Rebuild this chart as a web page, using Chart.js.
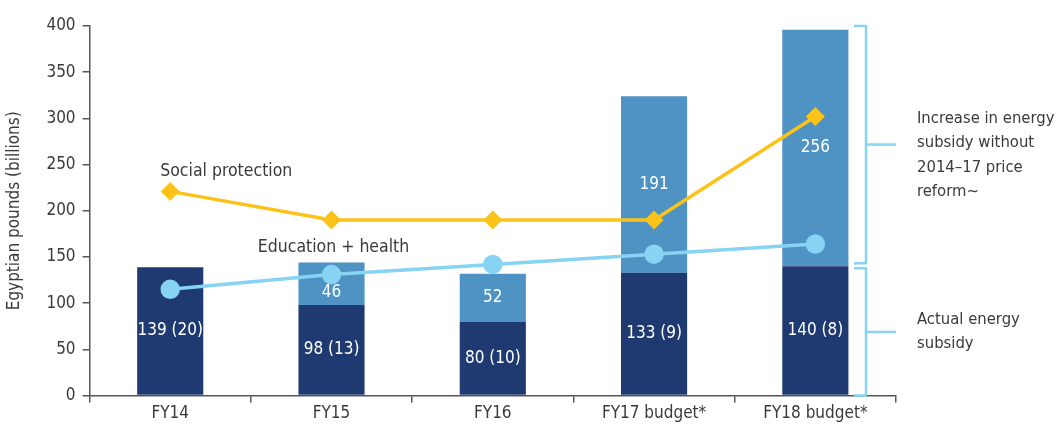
<!DOCTYPE html>
<html lang="en">
<head>
  <meta charset="UTF-8">
  <title>Egypt energy subsidy vs social spending</title>
  <script src="https://cdn.jsdelivr.net/npm/chart.js"></script>
  <style>
    html, body { margin: 0; padding: 0; background: #fff; }
    .chart-container { width: 1059px; height: 427px; }
  </style>
</head>
<body>
  <div class="chart-container">
    <canvas id="subsidyChart"></canvas>
  </div>
  <script>
    const categories = ['FY14', 'FY15', 'FY16', 'FY17 budget*', 'FY18 budget*'];
    const actualSubsidy = [139, 98, 80, 133, 140];
    const increaseWithoutReform = [0, 46, 52, 191, 256];
    const actualLabels = ['139 (20)', '98 (13)', '80 (10)', '133 (9)', '140 (8)'];
    const increaseLabels = ['', '46', '52', '191', '256'];
    const socialProtection = [221, 190, 190, 190, 302];
    const educationHealth = [115, 131, 142, 153, 164];
    const yTicks = [0, 50, 100, 150, 200, 250, 300, 350, 400];

    const FONT = '"Liberation Sans Narrow", "DejaVu Sans Condensed", "Roboto", sans-serif';
    const TEXT = '#3a3a3a';
    const DARK = '#1f3a70';
    const MID = '#4f93c4';
    const GOLD = '#fbc31a';
    const SKY = '#86d3f3';

    // white value labels inside bar segments, drawn right after each bar dataset
    const barLabels = {
      id: 'barLabels',
      afterDatasetDraw(chart, args) {
        const labels = args.index === 0 ? actualLabels : args.index === 1 ? increaseLabels : null;
        if (!labels) return;
        const ctx = chart.ctx;
        ctx.save();
        ctx.fillStyle = '#fff';
        ctx.font = '17px ' + FONT;
        ctx.textAlign = 'center';
        ctx.textBaseline = 'middle';
        args.meta.data.forEach((bar, i) => {
          if (!labels[i]) return;
          let y = (bar.y + bar.base) / 2;
          if (args.index === 1 && i === 1) y += 9; // keep clear of the line marker
          ctx.fillText(labels[i], bar.x, y);
        });
        ctx.restore();
      }
    };

    // brackets + notes on the right, and series names by the lines
    const notes = {
      id: 'notes',
      afterDraw(chart) {
        const ctx = chart.ctx, y = chart.scales.y, x = chart.scales.x;
        const last = categories.length - 1;
        ctx.save();
        ctx.strokeStyle = SKY;
        ctx.lineWidth = 2.5;
        ctx.lineJoin = 'round';
        const bx = chart.chartArea.right - 30;
        function bracket(top, bottom) {
          const mid = (top + bottom) / 2;
          ctx.beginPath();
          ctx.moveTo(bx - 12, top);
          ctx.lineTo(bx, top);
          ctx.lineTo(bx, bottom);
          ctx.lineTo(bx - 12, bottom);
          ctx.moveTo(bx, mid);
          ctx.lineTo(bx + 30, mid);
          ctx.stroke();
          return mid;
        }
        const m1 = bracket(y.getPixelForValue(400), y.getPixelForValue(actualSubsidy[last]) - 3);
        const m2 = bracket(y.getPixelForValue(actualSubsidy[last]) + 2, y.getPixelForValue(0));

        ctx.fillStyle = TEXT;
        ctx.font = '16.5px ' + FONT;
        ctx.textAlign = 'left';
        ctx.textBaseline = 'middle';
        const tx = chart.chartArea.right + 21;
        ['Increase in energy', 'subsidy without', '2014\u201317 price', 'reform~'].forEach((t, i) => {
          ctx.fillText(t, tx, m1 - 26 + i * 24.5);
        });
        ['Actual energy', 'subsidy'].forEach((t, i) => {
          ctx.fillText(t, tx, m2 - 12 + i * 24);
        });

        ctx.font = '17.5px ' + FONT;
        ctx.fillText('Social protection', x.getPixelForValue(0) - 10, y.getPixelForValue(socialProtection[0]) - 20);
        ctx.textAlign = 'center';
        ctx.fillText('Education + health', x.getPixelForValue(1) + 2, y.getPixelForValue(educationHealth[1]) - 27);
        ctx.restore();
      }
    };

    const ctx = document.getElementById('subsidyChart').getContext('2d');
    new Chart(ctx, {
      data: {
        labels: categories,
        datasets: [
          { type: 'bar', label: 'Actual energy subsidy', data: actualSubsidy, backgroundColor: DARK,
            stack: 'energy', order: 2, barPercentage: 0.41, categoryPercentage: 1 },
          { type: 'bar', label: 'Increase without reform', data: increaseWithoutReform, backgroundColor: MID,
            stack: 'energy', order: 2, barPercentage: 0.41, categoryPercentage: 1 },
          { type: 'line', label: 'Social protection', data: socialProtection, stack: 'sp', order: 0,
            borderColor: GOLD, backgroundColor: GOLD, borderWidth: 3.5, pointStyle: 'rectRot',
            pointRadius: 7, tension: 0 },
          { type: 'line', label: 'Education + health', data: educationHealth, stack: 'eh', order: 1,
            borderColor: SKY, backgroundColor: SKY, borderWidth: 3.5, pointStyle: 'circle',
            pointRadius: 8, tension: 0 }
        ]
      },
      options: {
        responsive: true,
        maintainAspectRatio: false,
        animation: false,
        layout: { padding: { left: 4, right: 163, top: 26, bottom: 2 } },
        plugins: { legend: { display: false }, tooltip: { enabled: false } },
        scales: {
          x: {
            stacked: true,
            offset: true,
            border: { color: '#555', width: 1.5 },
            grid: { offset: true, drawOnChartArea: false, color: '#555', tickLength: 7, lineWidth: 1.5 },
            ticks: { color: TEXT, font: { family: FONT, size: 17 }, padding: 1 }
          },
          y: {
            stacked: true,
            min: 0, max: 400,
            afterBuildTicks(axis) { axis.ticks = yTicks.map(v => ({ value: v })); },
            border: { color: '#555', width: 1.5 },
            grid: { drawOnChartArea: false, color: '#555', tickLength: 7, lineWidth: 1.5 },
            ticks: { color: TEXT, font: { family: FONT, size: 17 }, padding: 7 },
            title: { display: true, text: 'Egyptian pounds (billions)', color: TEXT,
              font: { family: FONT, size: 17 }, padding: { top: 0, bottom: 15 } }
          }
        }
      },
      plugins: [barLabels, notes]
    });
  </script>
</body>
</html>
